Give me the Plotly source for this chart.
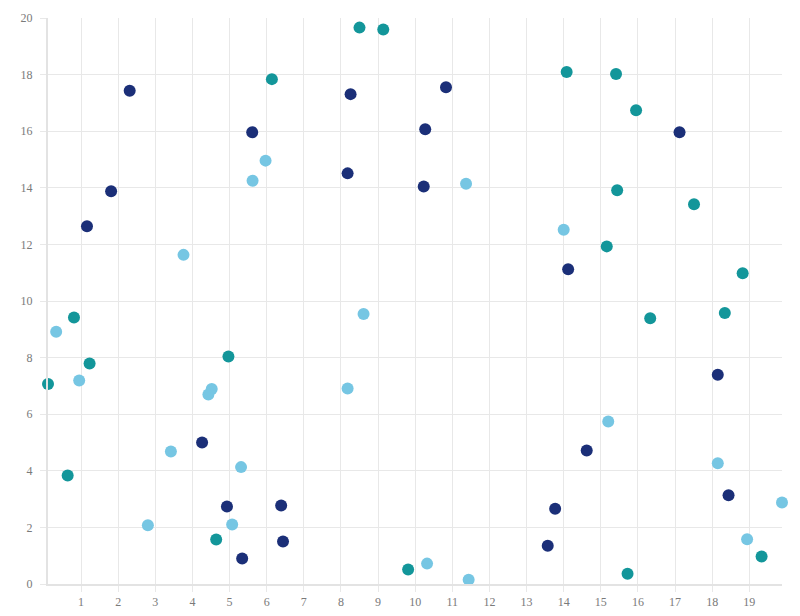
import plotly.graph_objects as go

navy_x = [2.31, 1.81, 1.16, 5.61, 4.26, 4.93, 5.34, 6.39, 6.44, 8.26, 8.18, 10.83, 10.27, 10.23,
          14.12, 14.62, 13.77, 13.57, 17.12, 18.15, 18.44]
navy_y = [17.43, 13.88, 12.64, 15.96, 5.00, 2.74, 0.90, 2.77, 1.50, 17.31, 14.51, 17.55, 16.07, 14.05,
          11.12, 4.72, 2.66, 1.35, 15.96, 7.39, 3.14]

teal_x = [0.11, 0.81, 1.23, 0.64, 4.97, 4.64, 6.14, 8.50, 9.14, 9.81, 14.08, 15.41, 15.95, 15.44,
          15.16, 16.33, 17.51, 18.82, 18.34, 15.72, 19.33]
teal_y = [7.07, 9.42, 7.79, 3.83, 8.04, 1.57, 17.84, 19.66, 19.59, 0.51, 18.09, 18.02, 16.74, 13.91,
          11.93, 9.39, 13.42, 10.98, 9.58, 0.36, 0.97]

light_x = [0.33, 0.95, 2.80, 3.42, 3.76, 4.52, 4.43, 5.31, 5.07, 5.62, 5.97, 8.18, 8.61, 10.32,
           11.37, 11.44, 14.00, 15.20, 18.15, 18.94, 19.88]
light_y = [8.91, 7.19, 2.08, 4.68, 11.63, 6.89, 6.70, 4.13, 2.10, 14.25, 14.96, 6.91, 9.54, 0.72,
           14.14, 0.15, 12.52, 5.74, 4.27, 1.58, 2.88]

x_ticks = list(range(1, 20))
y_ticks = list(range(0, 21, 2))

series = [
    ("Series A", navy_x, navy_y, "#1b2f78"),
    ("Series B", teal_x, teal_y, "#13969a"),
    ("Series C", light_x, light_y, "#76c6e3"),
]

fig = go.Figure()
for name, xs, ys, col in series:
    fig.add_trace(go.Scatter(x=xs, y=ys, mode="markers", name=name, cliponaxis=False,
                             marker=dict(size=12, color=col, line=dict(width=0))))

all_x = navy_x + teal_x + light_x
font = dict(family="Liberation Serif, serif", size=12, color="#7a7a7a")

fig.update_layout(
    width=792, height=608,
    margin=dict(l=40, r=18, t=10, b=32, autoexpand=False),
    paper_bgcolor="white", plot_bgcolor="white",
    showlegend=False,
    font=font,
)
fig.update_xaxes(
    range=[min(all_x), max(all_x)], automargin=False,
    tickvals=x_ticks, ticktext=[str(v) for v in x_ticks],
    showgrid=True, gridcolor="#e8e8e8", gridwidth=1,
    showline=True, linecolor="#e3e3e3", linewidth=2,
    ticks="outside", ticklen=6, tickcolor="#e8e8e8", tickwidth=1,
    zeroline=False, tickfont=font,
)
fig.update_yaxes(
    range=[0, 20], automargin=False,
    tickvals=y_ticks, ticktext=[str(v) for v in y_ticks],
    showgrid=True, gridcolor="#e8e8e8", gridwidth=1,
    showline=True, linecolor="#e3e3e3", linewidth=2,
    ticks="outside", ticklen=6, tickcolor="#e8e8e8", tickwidth=1,
    zeroline=False, tickfont=font, ticklabelstandoff=5,
)

fig.write_html("out.html")
